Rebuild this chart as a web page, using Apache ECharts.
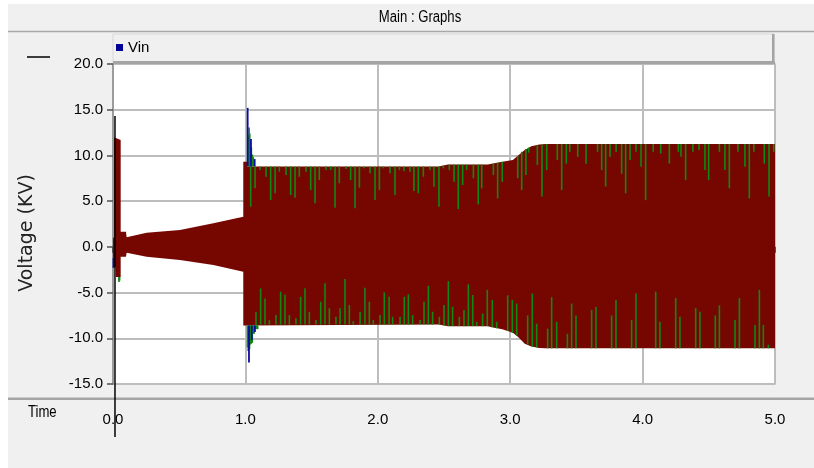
<!DOCTYPE html>
<html><head><meta charset="utf-8">
<script src="https://cdn.jsdelivr.net/npm/echarts@6/dist/echarts.min.js"></script>
<style>html,body{margin:0;padding:0;background:#f0f0f0;}#c{width:814px;height:468px;}</style>
</head><body><div id="c"></div>
<script>
const SANS = "'Liberation Sans', Arial, sans-serif";

// ---- axes / tick labels ----
const xTicks = [0, 1, 2, 3, 4, 5];
const xTickLabels = ['0.0', '1.0', '2.0', '3.0', '4.0', '5.0'];
const yTicks = [-15, -10, -5, 0, 5, 10, 15, 20];
const yTickLabels = ['-15.0', '-10.0', '-5.0', '0.0', '5.0', '10.0', '15.0', '20.0'];

// ---- envelope of the dense waveform (kV vs s) ----
const topT = [0, 0.008, 0.008, 0.058, 0.058, 0.098, 0.103, 0.254, 0.506, 0.758, 0.984, 0.984, 1.012, 1.012, 2.46, 2.53, 2.83, 2.88, 2.94, 3.02, 3.06, 3.11, 3.16, 3.22, 3.27, 5.0];
const topV = [1.0, 1.0, 12.0, 11.7, 1.65, 1.65, 1.04, 1.54, 1.84, 2.57, 3.3, 9.3, 9.3, 8.8, 8.8, 9.0, 9.0, 9.15, 9.3, 9.5, 10.0, 10.6, 11.0, 11.2, 11.25, 11.25];
const botT = [0, 0.008, 0.008, 0.02, 0.023, 0.058, 0.058, 0.098, 0.103, 0.254, 0.506, 0.758, 0.984, 0.984, 2.46, 2.53, 2.83, 2.88, 2.94, 3.02, 3.06, 3.11, 3.16, 3.22, 3.27, 5.0];
const botV = [-1.2, -1.2, -2.2, -2.2, -3.3, -3.3, -1.08, -1.08, -0.64, -1.08, -1.44, -1.99, -2.72, -8.6, -8.5, -8.67, -8.67, -8.85, -9.0, -9.4, -9.85, -10.6, -10.9, -11.05, -11.1, -11.1];

// ---- visible green strokes [t, from, to] ----
const greenStrokes = [
  [0.045, -3.3, -3.85], [0.05, -3.3, -3.7],
  [1.022, 8.8, 12.2], [1.028, 8.8, 13.05], [1.033, 8.8, 12.4], [1.045, 8.8, 10.9], [1.053, 8.8, 10.1], [1.06, 8.8, 9.8],
  [1.016, -8.6, -11.0], [1.021, -8.6, -11.4], [1.031, -8.6, -11.2], [1.037, -8.6, -10.7], [1.044, -8.6, -10.6], [1.052, -8.6, -10.5],
  [1.06, -8.6, -9.5], [1.066, -8.6, -9.5], [1.075, -8.6, -9.0], [1.085, -8.6, -9.0], [1.093, -8.6, -9.0],
  [1.040, 8.8, 4.39], [1.073, 8.8, 6.4], [1.110, 8.8, 8.4], [1.156, 8.8, 7.67], [1.191, 8.8, 5.12], [1.224, 8.8, 5.85], [1.256, 8.8, 8.22],
  [1.307, 8.8, 7.86], [1.342, 8.8, 5.67], [1.375, 8.8, 5.37], [1.407, 8.8, 7.67], [1.458, 8.8, 8.22], [1.493, 8.8, 6.21], [1.526, 8.8, 4.76],
  [1.558, 8.8, 7.31], [1.609, 8.8, 8.4], [1.644, 8.8, 8.4], [1.677, 8.8, 4.28], [1.709, 8.8, 6.95], [1.760, 8.8, 8.51], [1.795, 8.8, 7.31],
  [1.828, 8.8, 4.21], [1.861, 8.8, 6.47], [1.896, 8.8, 8.59], [1.941, 8.8, 8.04], [1.979, 8.8, 5.12], [2.012, 8.8, 6.21], [2.042, 8.8, 8.59],
  [2.092, 8.8, 8.04], [2.130, 8.8, 5.67], [2.163, 8.8, 8.4], [2.198, 8.8, 8.29], [2.243, 8.8, 8.22], [2.273, 8.8, 6.1], [2.306, 8.8, 5.85],
  [2.344, 8.8, 7.67], [2.394, 8.8, 8.4], [2.424, 8.8, 6.58], [2.462, 8.8, 4.39], [2.495, 8.9, 8.59], [2.540, 9.0, 8.4], [2.576, 9.0, 7.12],
  [2.608, 9.0, 4.14], [2.641, 9.0, 6.76], [2.671, 9.0, 8.4], [2.722, 9.0, 7.49], [2.759, 9.0, 4.65], [2.785, 9.0, 6.4], [2.873, 9.1, 7.85],
  [2.905, 9.2, 5.3], [2.94, 9.3, 7.1], [3.057, 9.95, 7.5], [3.087, 10.4, 6.2], [3.119, 10.7, 7.85], [3.14, 10.85, 10.3], [3.205, 11.1, 8.95],
  [3.24, 11.2, 5.5], [3.276, 11.25, 8.4], [3.356, 11.25, 9.5], [3.389, 11.25, 6.2], [3.424, 11.25, 9.1], [3.45, 11.25, 10.4], [3.51, 11.25, 9.85],
  [3.573, 11.25, 9.1], [3.66, 11.25, 10.4], [3.691, 11.25, 8.4], [3.721, 11.25, 6.6], [3.754, 11.25, 9.85], [3.80, 11.25, 10.4], [3.842, 11.25, 8.0],
  [3.872, 11.25, 5.85], [3.905, 11.25, 9.5], [3.95, 11.25, 10.4], [3.988, 11.25, 8.75], [4.023, 11.25, 5.1], [4.08, 11.25, 10.4], [4.137, 11.25, 10.2],
  [4.202, 11.25, 9.1], [4.27, 11.25, 10.4], [4.29, 11.25, 9.85], [4.325, 11.25, 7.3], [4.38, 11.25, 10.4], [4.426, 11.25, 10.6], [4.471, 11.25, 8.4],
  [4.499, 11.25, 7.3], [4.58, 11.25, 10.4], [4.622, 11.25, 8.4], [4.655, 11.25, 6.4], [4.72, 11.25, 10.4], [4.773, 11.25, 8.75], [4.806, 11.25, 5.3],
  [4.84, 11.25, 10.4], [4.919, 11.25, 9.1], [4.955, 11.25, 5.5], [4.99, 11.25, 10.4],
  [1.080, -8.6, -7.1], [1.115, -8.5, -4.54], [1.148, -8.5, -5.64], [1.181, -8.5, -8.0], [1.231, -8.5, -7.46], [1.266, -8.5, -4.91], [1.299, -8.5, -5.2],
  [1.332, -8.5, -7.46], [1.382, -8.5, -7.82], [1.417, -8.5, -5.46], [1.450, -8.5, -4.54], [1.483, -8.5, -7.1], [1.533, -8.5, -8.0], [1.569, -8.5, -6.0],
  [1.601, -8.5, -3.99], [1.634, -8.5, -6.72], [1.684, -8.5, -7.65], [1.715, -8.5, -6.72], [1.752, -8.5, -3.52], [1.785, -8.5, -6.36], [1.815, -8.5, -8.12],
  [1.866, -8.5, -7.1], [1.903, -8.5, -4.47], [1.936, -8.5, -6.0], [1.966, -8.5, -8.0], [2.017, -8.5, -7.46], [2.049, -8.5, -4.98], [2.085, -8.5, -5.46],
  [2.112, -8.5, -7.65], [2.168, -8.5, -7.65], [2.200, -8.5, -5.46], [2.231, -8.5, -5.2], [2.263, -8.5, -7.46], [2.319, -8.5, -8.0], [2.349, -8.5, -6.0],
  [2.382, -8.5, -4.25], [2.414, -8.5, -7.1], [2.465, -8.5, -7.65], [2.500, -8.6, -6.36], [2.533, -8.67, -3.74], [2.565, -8.67, -6.55], [2.616, -8.67, -7.65],
  [2.651, -8.67, -6.9], [2.684, -8.67, -4.1], [2.717, -8.67, -5.28], [2.747, -8.67, -8.2], [2.792, -8.67, -7.3], [2.827, -8.67, -4.7], [2.865, -8.8, -5.8],
  [2.898, -8.9, -8.2], [2.981, -9.2, -5.3], [3.016, -9.4, -5.8], [3.049, -9.7, -6.2], [3.132, -10.7, -7.5], [3.167, -10.9, -5.1], [3.2, -11.0, -8.4],
  [3.283, -11.1, -8.95], [3.313, -11.1, -5.5], [3.351, -11.1, -8.2], [3.432, -11.1, -9.5], [3.464, -11.1, -6.2], [3.497, -11.1, -7.5], [3.615, -11.1, -6.9],
  [3.648, -11.1, -6.55], [3.766, -11.1, -7.5], [3.799, -11.1, -5.8], [3.917, -11.1, -8.0], [3.95, -11.1, -5.1], [4.099, -11.1, -4.9], [4.131, -11.1, -8.2],
  [4.25, -11.1, -5.6], [4.282, -11.1, -7.65], [4.401, -11.1, -6.7], [4.433, -11.1, -7.1], [4.549, -11.1, -7.5], [4.58, -11.1, -6.4], [4.698, -11.1, -8.0],
  [4.731, -11.1, -5.6], [4.849, -11.1, -8.55], [4.882, -11.1, -4.7], [4.912, -11.1, -8.55], [4.95, -11.1, -10.7]
];

// ---- visible blue (Vin) strokes [t, from, to] ----
const blueStrokes = [
  [0.004, -1.2, -2.3],
  [1.017, 8.8, 15.2], [1.042, 8.8, 11.8], [1.07, 8.8, 9.6],
  [1.027, -8.6, -12.65], [1.048, -8.6, -10.2], [1.072, -8.6, -9.3]
];

// ---- black cursor line ----
const cursorT = [0.015, 0.015];
const cursorV = [14.3, -20.8];

const zip = (a, b) => a.map((v, i) => [v, b[i]]);
const RED = '#760700';

function strokeRenderer(color, width) {
  return function (params, api) {
    const p1 = api.coord([api.value(0), api.value(1)]);
    const p2 = api.coord([api.value(0), api.value(2)]);
    return { type: 'line', shape: { x1: p1[0], y1: p1[1], x2: p2[0], y2: p2[1] },
             style: { stroke: color, lineWidth: width } };
  };
}

function bandRenderer(params, api) {
  const pts = [];
  for (let i = 0; i < topT.length; i++) pts.push(api.coord([topT[i], topV[i]]));
  for (let i = botT.length - 1; i >= 0; i--) pts.push(api.coord([botT[i], botV[i]]));
  return { type: 'polygon', shape: { points: pts }, style: { fill: RED, lineWidth: 0 } };
}

const chart = echarts.init(document.getElementById('c'), null, { renderer: 'canvas' });
chart.setOption({
  animation: false,
  backgroundColor: '#f0f0f0',
  graphic: [
    { type: 'rect', z: -5, shape: { x: 0, y: 0, width: 814, height: 4 }, style: { fill: '#ffffff' } },
    { type: 'rect', z: -5, shape: { x: 0, y: 0, width: 8, height: 468 }, style: { fill: '#ffffff' } },
    { type: 'line', z: -4, shape: { x1: 8, y1: 31.5, x2: 814, y2: 31.5 }, style: { stroke: '#a8a8a8', lineWidth: 1.5 } },
    { type: 'text', z: 1, x: 420, y: 18, scaleX: 0.82, style: { text: 'Main : Graphs', font: "16px " + SANS, fill: '#000', align: 'center', verticalAlign: 'middle' } },
    { type: 'rect', z: -4, shape: { x: 113, y: 34, width: 661, height: 28 }, style: { fill: '#f0f0f0', stroke: '#d8d8d8', lineWidth: 1 } },
    { type: 'rect', z: 3, shape: { x: 113, y: 61, width: 662, height: 3 }, style: { fill: '#a4a4a4' } },
    { type: 'rect', z: 3, shape: { x: 772, y: 34, width: 2.5, height: 30 }, style: { fill: '#a4a4a4' } },
    { type: 'line', z: 1, shape: { x1: 27, y1: 57, x2: 50, y2: 57 }, style: { stroke: '#000', lineWidth: 1.5 } },
    { type: 'rect', z: 1, shape: { x: 8, y: 397.5, width: 806, height: 2.5 }, style: { fill: '#a4a4a4' } },
    { type: 'text', z: 1, x: 28, y: 413, scaleX: 0.82, style: { text: 'Time', font: "16px " + SANS, fill: '#000', align: 'left', verticalAlign: 'middle' } }
  ],
  legend: {
    data: ['Vin'], left: 116, top: 40, padding: 0, icon: 'rect', itemWidth: 7, itemHeight: 7, itemGap: 5,
    textStyle: { fontFamily: SANS, fontSize: 15, color: '#000' },
    selectedMode: false
  },
  grid: {
    left: 113, top: 64, width: 662, height: 320, show: true,
    backgroundColor: '#ffffff', borderColor: '#bcbcbc', borderWidth: 1.5
  },
  xAxis: {
    type: 'value', min: 0, max: 5, interval: 1, offset: 17,
    axisLine: { show: false },
    axisTick: { show: true, length: 6, lineStyle: { color: '#505050', width: 2 } },
    axisLabel: { margin: 11, fontFamily: SANS, fontSize: 15, color: '#000',
      formatter: v => { const i = xTicks.indexOf(v); return i >= 0 ? xTickLabels[i] : ''; } },
    splitLine: { show: true, lineStyle: { color: '#bdbdbd', width: 2 } }
  },
  yAxis: {
    type: 'value', min: -15, max: 20, interval: 5,
    name: 'Voltage (KV)', nameLocation: 'middle', nameRotate: 90, nameGap: 76,
    nameTextStyle: { fontFamily: 'DejaVu Sans', fontSize: 19, color: '#222', padding: [0, 18, 0, 0] },
    axisLine: { show: true, lineStyle: { color: '#909090', width: 1.5 } },
    axisTick: { show: true, length: 6, lineStyle: { color: '#505050', width: 1.5 } },
    axisLabel: { margin: 10, fontFamily: SANS, fontSize: 15, color: '#000',
      formatter: v => { const i = yTicks.indexOf(v); return i >= 0 ? yTickLabels[i] : ''; } },
    splitLine: { show: true, lineStyle: { color: '#bdbdbd', width: 2 } }
  },
  series: [
    { type: 'custom', name: 'band', data: [[0, 0]], z: 2, encode: { x: 0, y: 1 }, renderItem: bandRenderer },
    { type: 'custom', name: 'green', data: greenStrokes, z: 3,
      encode: { x: 0, y: [1, 2] }, renderItem: strokeRenderer('#118811', 1.6) },
    { type: 'custom', name: 'Vin', data: blueStrokes, z: 4, itemStyle: { color: '#000096' },
      encode: { x: 0, y: [1, 2] }, renderItem: strokeRenderer('#0a0aa0', 1.8) },
    { type: 'line', name: 'cursor', data: zip(cursorT, cursorV), showSymbol: false, clip: false, z: 6,
      lineStyle: { color: '#000', width: 1.5 } }
  ]
});
</script></body></html>
